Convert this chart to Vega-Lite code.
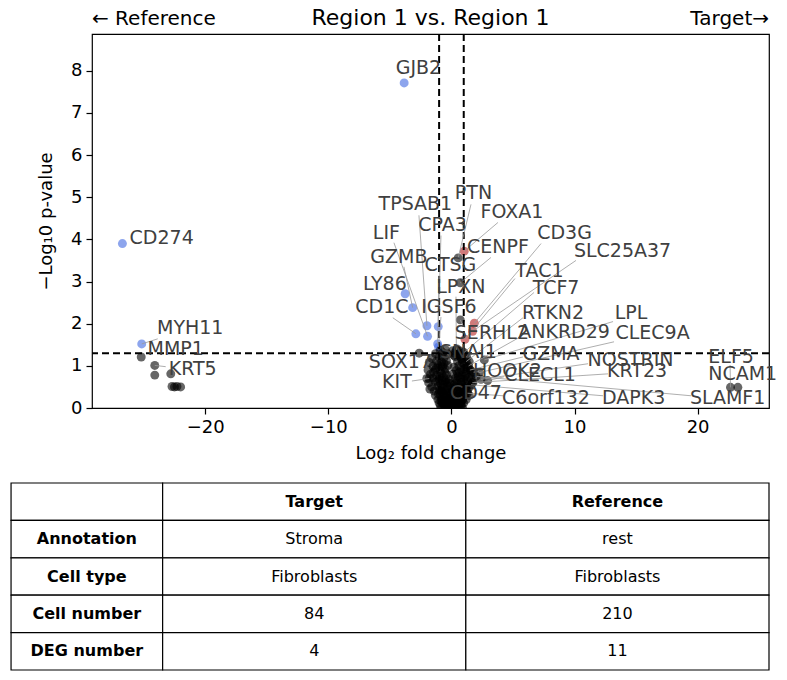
{
 "$schema": "https://vega.github.io/schema/vega-lite/v6.json",
 "padding": {"left": 10, "top": 6, "right": 5, "bottom": 5},
 "background": "white",
 "config": {
  "font": "DejaVu Sans",
  "view": {"stroke": "black", "strokeWidth": 1.2},
  "axis": {"grid": false, "domain": false, "tickColor": "black", "tickSize": 6, "tickWidth": 1.2, "labelColor": "black", "labelFontSize": 18, "titleFontSize": 18, "titleFontWeight": "normal", "titleColor": "black", "labelPadding": 4},
  "axisX": {"titlePadding": 8},
  "axisY": {"titlePadding": 15}
 },
 "datasets": {
  "genes": [
   {"gene":"GJB2","x":-3.84,"y":7.71,"sig":"down","lx":-2.68,"ly":8.06},
   {"gene":"CD274","x":-26.73,"y":3.90,"sig":"down","lx":-23.54,"ly":4.04},
   {"gene":"MYH11","x":-25.16,"y":1.52,"sig":"down","lx":-21.22,"ly":1.90,"ex":-23.86,"ey":1.64},
   {"gene":"MMP1","x":-25.2,"y":1.21,"sig":"ns","lx":-22.40,"ly":1.40},
   {"gene":"KRT5","x":-24.1,"y":1.01,"sig":"ns","lx":-21.02,"ly":0.93,"ex":-23.21,"ey":0.98},
   {"gene":"LY86","x":-3.76,"y":2.71,"sig":"down","lx":-5.41,"ly":2.93},
   {"gene":"CD1C","x":-2.89,"y":1.76,"sig":"down","lx":-5.65,"ly":2.40,"ex":-4.76,"ey":2.14},
   {"gene":"GZMB","x":-3.15,"y":2.38,"sig":"down","lx":-4.27,"ly":3.59,"ex":-3.86,"ey":3.35},
   {"gene":"LIF","x":-1.94,"y":1.70,"sig":"down","lx":-5.28,"ly":4.16,"ex":-4.67,"ey":3.92},
   {"gene":"TPSAB1","x":-1.99,"y":1.95,"sig":"down","lx":-2.93,"ly":4.83,"ex":-2.64,"ey":4.57},
   {"gene":"CPA3","x":-1.07,"y":1.93,"sig":"down","lx":-0.73,"ly":4.35,"ex":-0.85,"ey":4.09},
   {"gene":"CTSG","x":-1.12,"y":1.52,"sig":"down","lx":-0.08,"ly":3.38,"ex":-1.02,"ey":3.14},
   {"gene":"IGSF6","x":-1.05,"y":1.45,"sig":"down","lx":-0.20,"ly":2.40,"ex":-0.85,"ey":2.16},
   {"gene":"PTN","x":0.55,"y":3.56,"sig":"ns","lx":1.79,"ly":5.09,"ex":1.59,"ey":4.83},
   {"gene":"FOXA1","x":1.04,"y":3.72,"sig":"up","lx":4.92,"ly":4.66,"ex":3.78,"ey":4.40},
   {"gene":"CENPF","x":0.72,"y":2.97,"sig":"ns","lx":3.78,"ly":3.83,"ex":3.21,"ey":3.57},
   {"gene":"LPXN","x":0.40,"y":1.38,"sig":"ns","lx":0.77,"ly":2.88,"ex":0.37,"ey":2.64},
   {"gene":"SERHL2","x":0.72,"y":2.09,"sig":"ns","lx":3.29,"ly":1.78,"ex":0.93,"ey":1.95},
   {"gene":"SNAI1","x":0.20,"y":1.25,"sig":"ns","lx":1.38,"ly":1.33},
   {"gene":"SOX17","x":-2.62,"y":1.30,"sig":"ns","lx":-4.15,"ly":1.09},
   {"gene":"KIT","x":-1.80,"y":0.70,"sig":"ns","lx":-4.43,"ly":0.62,"ex":-3.21,"ey":0.64},
   {"gene":"HOOK2","x":1.80,"y":0.85,"sig":"ns","lx":4.55,"ly":0.88,"ex":2.24,"ey":0.86},
   {"gene":"CLECL1","x":2.94,"y":0.65,"sig":"ns","lx":7.20,"ly":0.78,"ex":4.27,"ey":0.74},
   {"gene":"CD47","x":0.90,"y":0.20,"sig":"ns","lx":1.99,"ly":0.36},
   {"gene":"TAC1","x":1.10,"y":1.63,"sig":"up","lx":7.15,"ly":3.24,"ex":5.16,"ey":3.07},
   {"gene":"CD3G","x":1.86,"y":2.01,"sig":"up","lx":9.19,"ly":4.14,"ex":7.28,"ey":3.90},
   {"gene":"SLC25A37","x":1.72,"y":1.82,"sig":"up","lx":13.90,"ly":3.73,"ex":10.12,"ey":3.50},
   {"gene":"TCF7","x":0.95,"y":1.30,"sig":"ns","lx":8.50,"ly":2.85,"ex":6.71,"ey":2.74},
   {"gene":"RTKN2","x":1.20,"y":1.10,"sig":"ns","lx":8.25,"ly":2.26,"ex":5.81,"ey":2.14},
   {"gene":"LPL","x":2.67,"y":1.14,"sig":"ns","lx":14.59,"ly":2.26,"ex":13.13,"ey":2.05},
   {"gene":"ANKRD29","x":1.40,"y":1.00,"sig":"ns","lx":9.15,"ly":1.81,"ex":5.49,"ey":1.67},
   {"gene":"CLEC9A","x":2.26,"y":0.84,"sig":"ns","lx":16.34,"ly":1.78,"ex":13.21,"ey":1.57},
   {"gene":"GZMA","x":1.50,"y":0.90,"sig":"ns","lx":8.09,"ly":1.28,"ex":5.81,"ey":1.21},
   {"gene":"NOSTRIN","x":2.40,"y":0.68,"sig":"ns","lx":14.55,"ly":1.14,"ex":11.10,"ey":1.05},
   {"gene":"KRT23","x":1.70,"y":0.60,"sig":"ns","lx":15.08,"ly":0.88,"ex":12.72,"ey":0.81},
   {"gene":"C6orf132","x":1.30,"y":0.35,"sig":"ns","lx":7.68,"ly":0.24,"ex":4.19,"ey":0.29},
   {"gene":"DAPK3","x":1.60,"y":0.55,"sig":"ns","lx":14.80,"ly":0.24,"ex":12.32,"ey":0.29},
   {"gene":"SLAMF1","x":2.00,"y":0.75,"sig":"ns","lx":22.44,"ly":0.24,"ex":19.47,"ey":0.29},
   {"gene":"ELF5","x":22.67,"y":0.49,"sig":"ns","lx":22.72,"ly":1.21,"ex":22.64,"ey":1.02},
   {"gene":"NCAM1","x":23.27,"y":0.49,"sig":"ns","lx":23.66,"ly":0.81},
   {"x":-24.1,"y":0.78,"sig":"ns"},{"x":-22.8,"y":0.81,"sig":"ns"},{"x":-22.7,"y":0.51,"sig":"ns"},{"x":-22.5,"y":0.50,"sig":"ns"},{"x":-22.3,"y":0.51,"sig":"ns"},{"x":-22.0,"y":0.50,"sig":"ns"},
   {"x":-0.9,"y":1.37,"sig":"ns"},{"x":-0.5,"y":1.39,"sig":"ns"},{"x":0.1,"y":1.36,"sig":"ns"},{"x":0.45,"y":1.40,"sig":"ns"},{"x":0.7,"y":1.35,"sig":"ns"},
   {"x":-1.3,"y":1.29,"sig":"ns"},{"x":-0.7,"y":1.31,"sig":"ns"},{"x":-0.3,"y":1.28,"sig":"ns"},{"x":0.25,"y":1.30,"sig":"ns"},{"x":0.6,"y":1.27,"sig":"ns"},{"x":1.0,"y":1.32,"sig":"ns"},
   {"x":-1.6,"y":1.18,"sig":"ns"},{"x":-1.0,"y":1.21,"sig":"ns"},{"x":-0.6,"y":1.19,"sig":"ns"},{"x":0.3,"y":1.22,"sig":"ns"},{"x":0.8,"y":1.18,"sig":"ns"},{"x":1.25,"y":1.20,"sig":"ns"},
   {"x":-1.8,"y":1.08,"sig":"ns"},{"x":-1.2,"y":1.11,"sig":"ns"},{"x":-0.8,"y":1.09,"sig":"ns"},{"x":-0.4,"y":1.12,"sig":"ns"},{"x":0.5,"y":1.10,"sig":"ns"},{"x":0.9,"y":1.07,"sig":"ns"},{"x":1.45,"y":1.10,"sig":"ns"},
   {"x":-1.5,"y":0.99,"sig":"ns"},{"x":-1.1,"y":1.02,"sig":"ns"},{"x":-0.7,"y":0.98,"sig":"ns"},{"x":-0.3,"y":1.01,"sig":"ns"},{"x":0.2,"y":0.97,"sig":"ns"},{"x":0.6,"y":1.00,"sig":"ns"},{"x":1.05,"y":1.03,"sig":"ns"},{"x":1.3,"y":0.96,"sig":"ns"},
   {"x":-1.9,"y":0.90,"sig":"ns"},{"x":-1.3,"y":0.91,"sig":"ns"},{"x":-0.9,"y":0.88,"sig":"ns"},{"x":-0.5,"y":0.92,"sig":"ns"},{"x":0.4,"y":0.89,"sig":"ns"},{"x":0.8,"y":0.91,"sig":"ns"},{"x":1.15,"y":0.88,"sig":"ns"},{"x":1.55,"y":0.90,"sig":"ns"},
   {"x":-1.7,"y":0.80,"sig":"ns"},{"x":-1.2,"y":0.78,"sig":"ns"},{"x":-0.8,"y":0.81,"sig":"ns"},{"x":-0.4,"y":0.79,"sig":"ns"},{"x":0.1,"y":0.80,"sig":"ns"},{"x":0.5,"y":0.82,"sig":"ns"},{"x":0.9,"y":0.78,"sig":"ns"},{"x":1.2,"y":0.80,"sig":"ns"},{"x":1.65,"y":0.79,"sig":"ns"},
   {"x":-2.0,"y":0.70,"sig":"ns"},{"x":-1.5,"y":0.71,"sig":"ns"},{"x":-1.0,"y":0.69,"sig":"ns"},{"x":-0.6,"y":0.72,"sig":"ns"},{"x":-0.2,"y":0.68,"sig":"ns"},{"x":0.3,"y":0.70,"sig":"ns"},{"x":0.7,"y":0.71,"sig":"ns"},{"x":1.0,"y":0.68,"sig":"ns"},{"x":1.4,"y":0.72,"sig":"ns"},
   {"x":-1.85,"y":0.60,"sig":"ns"},{"x":-1.3,"y":0.61,"sig":"ns"},{"x":-0.9,"y":0.59,"sig":"ns"},{"x":-0.5,"y":0.62,"sig":"ns"},{"x":-0.1,"y":0.58,"sig":"ns"},{"x":0.4,"y":0.60,"sig":"ns"},{"x":0.8,"y":0.61,"sig":"ns"},{"x":1.1,"y":0.59,"sig":"ns"},{"x":1.35,"y":0.62,"sig":"ns"},{"x":1.75,"y":0.60,"sig":"ns"},
   {"x":-1.6,"y":0.50,"sig":"ns"},{"x":-1.1,"y":0.51,"sig":"ns"},{"x":-0.7,"y":0.49,"sig":"ns"},{"x":-0.3,"y":0.52,"sig":"ns"},{"x":0.0,"y":0.48,"sig":"ns"},{"x":0.3,"y":0.50,"sig":"ns"},{"x":0.6,"y":0.51,"sig":"ns"},{"x":0.9,"y":0.49,"sig":"ns"},{"x":1.2,"y":0.52,"sig":"ns"},{"x":1.5,"y":0.50,"sig":"ns"},
   {"x":-1.4,"y":0.40,"sig":"ns"},{"x":-1.0,"y":0.41,"sig":"ns"},{"x":-0.8,"y":0.39,"sig":"ns"},{"x":-0.5,"y":0.42,"sig":"ns"},{"x":-0.2,"y":0.38,"sig":"ns"},{"x":0.1,"y":0.40,"sig":"ns"},{"x":0.4,"y":0.41,"sig":"ns"},{"x":0.7,"y":0.39,"sig":"ns"},{"x":1.0,"y":0.42,"sig":"ns"},{"x":1.3,"y":0.40,"sig":"ns"},
   {"x":-1.3,"y":0.30,"sig":"ns"},{"x":-0.9,"y":0.31,"sig":"ns"},{"x":-0.6,"y":0.29,"sig":"ns"},{"x":-0.4,"y":0.32,"sig":"ns"},{"x":-0.1,"y":0.28,"sig":"ns"},{"x":0.2,"y":0.30,"sig":"ns"},{"x":0.5,"y":0.31,"sig":"ns"},{"x":0.8,"y":0.29,"sig":"ns"},{"x":1.1,"y":0.30,"sig":"ns"},
   {"x":-1.1,"y":0.20,"sig":"ns"},{"x":-0.8,"y":0.21,"sig":"ns"},{"x":-0.5,"y":0.19,"sig":"ns"},{"x":-0.3,"y":0.22,"sig":"ns"},{"x":0.0,"y":0.18,"sig":"ns"},{"x":0.3,"y":0.20,"sig":"ns"},{"x":0.6,"y":0.21,"sig":"ns"},{"x":0.9,"y":0.19,"sig":"ns"},{"x":1.2,"y":0.20,"sig":"ns"},
   {"x":-1.0,"y":0.12,"sig":"ns"},{"x":-0.7,"y":0.13,"sig":"ns"},{"x":-0.4,"y":0.11,"sig":"ns"},{"x":-0.2,"y":0.12,"sig":"ns"},{"x":0.1,"y":0.13,"sig":"ns"},{"x":0.4,"y":0.11,"sig":"ns"},{"x":0.7,"y":0.12,"sig":"ns"},{"x":1.0,"y":0.12,"sig":"ns"},
   {"x":-0.9,"y":0.05,"sig":"ns"},{"x":-0.6,"y":0.06,"sig":"ns"},{"x":-0.3,"y":0.04,"sig":"ns"},{"x":-0.1,"y":0.05,"sig":"ns"},{"x":0.2,"y":0.06,"sig":"ns"},{"x":0.5,"y":0.04,"sig":"ns"},{"x":0.8,"y":0.05,"sig":"ns"},
   {"x":-0.8,"y":0.01,"sig":"ns"},{"x":-0.5,"y":0.02,"sig":"ns"},{"x":-0.2,"y":0.01,"sig":"ns"},{"x":0.0,"y":0.02,"sig":"ns"},{"x":0.3,"y":0.01,"sig":"ns"},{"x":0.6,"y":0.02,"sig":"ns"},{"x":0.9,"y":0.01,"sig":"ns"},
   {"x":-1.45,"y":0.85,"sig":"ns"},{"x":-0.65,"y":0.55,"sig":"ns"},{"x":0.65,"y":0.85,"sig":"ns"},{"x":1.45,"y":0.3,"sig":"ns"},{"x":-1.75,"y":0.45,"sig":"ns"},{"x":1.6,"y":0.7,"sig":"ns"},{"x":-0.85,"y":1.0,"sig":"ns"},{"x":0.85,"y":1.15,"sig":"ns"},
   {"x":-0.95,"y":0.75,"sig":"ns"},{"x":-0.75,"y":0.65,"sig":"ns"},{"x":-0.55,"y":0.85,"sig":"ns"},{"x":-0.35,"y":0.45,"sig":"ns"},{"x":-0.15,"y":0.35,"sig":"ns"},{"x":0.05,"y":0.25,"sig":"ns"},{"x":0.25,"y":0.45,"sig":"ns"},{"x":0.45,"y":0.65,"sig":"ns"},{"x":0.65,"y":0.35,"sig":"ns"},{"x":0.85,"y":0.55,"sig":"ns"},
   {"x":-1.05,"y":0.33,"sig":"ns"},{"x":-0.85,"y":0.16,"sig":"ns"},{"x":-0.65,"y":0.09,"sig":"ns"},{"x":-0.45,"y":0.26,"sig":"ns"},{"x":-0.25,"y":0.08,"sig":"ns"},{"x":0.15,"y":0.09,"sig":"ns"},{"x":0.35,"y":0.16,"sig":"ns"},{"x":0.55,"y":0.26,"sig":"ns"},{"x":0.75,"y":0.08,"sig":"ns"},{"x":0.95,"y":0.33,"sig":"ns"},
   {"x":-1.15,"y":0.64,"sig":"ns"},{"x":-0.45,"y":0.66,"sig":"ns"},{"x":0.55,"y":0.74,"sig":"ns"},{"x":1.15,"y":0.46,"sig":"ns"},{"x":-1.25,"y":0.95,"sig":"ns"},{"x":1.05,"y":0.93,"sig":"ns"},{"x":-0.6,"y":1.05,"sig":"ns"},{"x":0.7,"y":1.22,"sig":"ns"},
   {"x":-0.7,"y":0.36,"sig":"ns"},{"x":-0.3,"y":0.6,"sig":"ns"},{"x":0.2,"y":0.55,"sig":"ns"},{"x":0.5,"y":0.15,"sig":"ns"},{"x":-0.5,"y":0.14,"sig":"ns"},{"x":0.8,"y":0.45,"sig":"ns"},{"x":-0.9,"y":0.45,"sig":"ns"},{"x":1.1,"y":0.75,"sig":"ns"}
  ],
  "tbl": [
   {"r":0,"c0":0,"c1":1,"cx":0.5,"t":"","header":true},
   {"r":0,"c0":1,"c1":3,"cx":2,"t":"Target","header":true},
   {"r":0,"c0":3,"c1":5,"cx":4,"t":"Reference","header":true},
   {"r":1,"c0":0,"c1":1,"cx":0.5,"t":"Annotation","header":true},
   {"r":1,"c0":1,"c1":3,"cx":2,"t":"Stroma","header":false},
   {"r":1,"c0":3,"c1":5,"cx":4,"t":"rest","header":false},
   {"r":2,"c0":0,"c1":1,"cx":0.5,"t":"Cell type","header":true},
   {"r":2,"c0":1,"c1":3,"cx":2,"t":"Fibroblasts","header":false},
   {"r":2,"c0":3,"c1":5,"cx":4,"t":"Fibroblasts","header":false},
   {"r":3,"c0":0,"c1":1,"cx":0.5,"t":"Cell number","header":true},
   {"r":3,"c0":1,"c1":3,"cx":2,"t":"84","header":false},
   {"r":3,"c0":3,"c1":5,"cx":4,"t":"210","header":false},
   {"r":4,"c0":0,"c1":1,"cx":0.5,"t":"DEG number","header":true},
   {"r":4,"c0":1,"c1":3,"cx":2,"t":"4","header":false},
   {"r":4,"c0":3,"c1":5,"cx":4,"t":"11","header":false}
  ]
 },
 "spacing": 19,
 "vconcat": [
  {
   "width": 677,
   "height": 374,
   "data": {"name": "genes"},
   "layer": [
    {
     "mark": {"type": "circle", "size": 80, "opacity": 0.6, "clip": true},
     "encoding": {
      "x": {"field": "x", "type": "quantitative", "scale": {"domain": [-29.2, 25.8], "nice": false, "zero": false}, "axis": {"values": [-20, -10, 0, 10, 20], "title": "Log₂ fold change"}},
      "y": {"field": "y", "type": "quantitative", "scale": {"domain": [0, 8.87], "nice": false, "zero": false}, "axis": {"values": [0, 1, 2, 3, 4, 5, 6, 7, 8], "title": "−Log₁0 p-value"}},
      "color": {"field": "sig", "type": "nominal", "scale": {"domain": ["down", "ns", "up"], "range": ["royalblue", "black", "firebrick"]}, "legend": null}
     }
    },
    {
     "data": {"values": [{}]},
     "mark": {"type": "rule", "strokeDash": [7, 4], "strokeWidth": 2, "color": "black"},
     "encoding": {"x": {"datum": -1}}
    },
    {
     "data": {"values": [{}]},
     "mark": {"type": "rule", "strokeDash": [7, 4], "strokeWidth": 2, "color": "black"},
     "encoding": {"x": {"datum": 1}}
    },
    {
     "data": {"values": [{}]},
     "mark": {"type": "rule", "strokeDash": [7, 4], "strokeWidth": 2, "color": "black"},
     "encoding": {"y": {"datum": 1.301}}
    },
    {
     "transform": [{"filter": "isValid(datum.ex)"}],
     "mark": {"type": "rule", "color": "#999999", "strokeWidth": 0.8},
     "encoding": {
      "x": {"field": "x", "type": "quantitative", "title": "Log₂ fold change"},
      "y": {"field": "y", "type": "quantitative", "title": "−Log₁0 p-value"},
      "x2": {"field": "ex"},
      "y2": {"field": "ey"}
     }
    },
    {
     "transform": [{"filter": "isValid(datum.gene)"}],
     "mark": {"type": "text", "fontSize": 19, "color": "#404040", "align": "center", "baseline": "middle"},
     "encoding": {
      "x": {"field": "lx", "type": "quantitative", "title": "Log₂ fold change"},
      "y": {"field": "ly", "type": "quantitative", "title": "−Log₁0 p-value"},
      "text": {"field": "gene"}
     }
    },
    {
     "data": {"values": [{}]},
     "mark": {"type": "text", "fontSize": 20, "color": "black", "align": "left", "baseline": "alphabetic", "dy": -9},
     "encoding": {"x": {"datum": -29.2}, "y": {"datum": 8.87}, "text": {"value": "← Reference"}}
    },
    {
     "data": {"values": [{}]},
     "mark": {"type": "text", "fontSize": 22, "color": "black", "align": "center", "baseline": "alphabetic", "dy": -9},
     "encoding": {"x": {"datum": -1.7}, "y": {"datum": 8.87}, "text": {"value": "Region 1 vs. Region 1"}}
    },
    {
     "data": {"values": [{}]},
     "mark": {"type": "text", "fontSize": 20, "color": "black", "align": "right", "baseline": "alphabetic", "dy": -9},
     "encoding": {"x": {"datum": 25.8}, "y": {"datum": 8.87}, "text": {"value": "Target→"}}
    }
   ]
  },
  {
   "width": 677,
   "height": 187,
   "view": {"stroke": null},
   "data": {"name": "tbl"},
   "layer": [
    {
     "mark": {"type": "rect", "fill": "white", "stroke": "black", "strokeWidth": 1.2},
     "encoding": {
      "x": {"field": "c0", "type": "quantitative", "scale": {"domain": [0.534, 5], "nice": false, "zero": false}, "axis": null},
      "x2": {"field": "c1"},
      "y": {"field": "r", "type": "ordinal", "scale": {"paddingInner": 0, "paddingOuter": 0}, "axis": null}
     }
    },
    {
     "transform": [{"filter": "!datum.header"}],
     "mark": {"type": "text", "fontSize": 16, "color": "black", "baseline": "middle", "align": "center"},
     "encoding": {
      "x": {"field": "cx", "type": "quantitative", "axis": null},
      "y": {"field": "r", "type": "ordinal", "axis": null},
      "text": {"field": "t"}
     }
    },
    {
     "transform": [{"filter": "datum.header"}],
     "mark": {"type": "text", "fontSize": 16, "fontWeight": "bold", "color": "black", "baseline": "middle", "align": "center"},
     "encoding": {
      "x": {"field": "cx", "type": "quantitative", "axis": null},
      "y": {"field": "r", "type": "ordinal", "axis": null},
      "text": {"field": "t"}
     }
    }
   ]
  }
 ]
}
